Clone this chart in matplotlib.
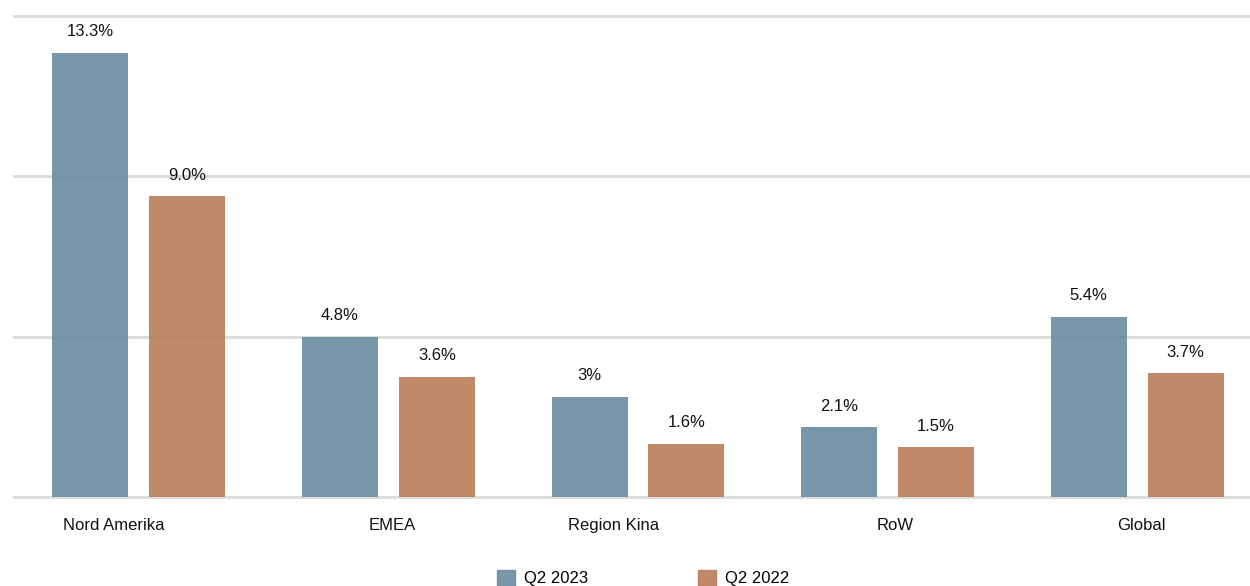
import numpy as np
import matplotlib.pyplot as plt
from matplotlib.patches import Patch

# data
categories = ["Nord Amerika", "EMEA", "Region Kina", "RoW", "Global"]
q2_2023 = [13.3, 4.8, 3.0, 2.1, 5.4]
q2_2022 = [9.0, 3.6, 1.6, 1.5, 3.7]
labels_2023 = ["13.3%", "4.8%", "3%", "2.1%", "5.4%"]
labels_2022 = ["9.0%", "3.6%", "1.6%", "1.5%", "3.7%"]
label_shift = [-0.10, 0.016, -0.096, 0.03, 0.016]

c_2023 = "#6c8ca0"
c_2022 = "#b97d58"

plt.rcParams["font.family"] = ["Liberation Sans", "DejaVu Sans"]

fig = plt.figure(figsize=(12.5, 5.86), dpi=100)
ax = fig.add_axes([14 / 1250, 1 - 497 / 586, 1 - 14 / 1250, (497 - 10) / 586])

x = np.arange(len(categories))
w = 0.305
off = 0.194
ax.bar(x - off, q2_2023, width=w, color=c_2023, alpha=0.9, zorder=2)
ax.bar(x + off, q2_2022, width=w, color=c_2022, alpha=0.9, zorder=2)

for xi, v, t in zip(x - off, q2_2023, labels_2023):
    ax.annotate(t, (xi, v), xytext=(0, 15), textcoords="offset points",
                ha="center", va="center", fontsize=12, color="#111111")
for xi, v, t in zip(x + off, q2_2022, labels_2022):
    ax.annotate(t, (xi, v), xytext=(0, 15), textcoords="offset points",
                ha="center", va="center", fontsize=12, color="#111111")

# light grey grid lines behind the bars
for g in [0, 4.8, 9.6, 14.4]:
    ax.axhline(g, color="#dcdcdc", linewidth=2.2, zorder=1, clip_on=False)

ax.set_xlim(-0.5, -0.5 + (1250 - 14) / 249.6)
ax.set_ylim(0, (497 - 10) / 33.4)
ax.set_yticks([])
ax.set_xticks(x + np.array(label_shift))
ax.set_xticklabels(categories, fontsize=12, color="#111111")
ax.tick_params(axis="x", length=0, pad=15)
for s in ax.spines.values():
    s.set_visible(False)

handles = [Patch(color=c_2023, alpha=0.9, label="Q2 2023"),
           Patch(color=c_2022, alpha=0.9, label="Q2 2022")]
fig.legend(handles=handles, loc="center", bbox_to_anchor=(643 / 1250, 1 - 578 / 586),
           ncol=2, frameon=False, fontsize=12, handlelength=1.1, handleheight=1.1,
           handletextpad=0.5, columnspacing=6.6)

plt.savefig("out.png", dpi=100)
